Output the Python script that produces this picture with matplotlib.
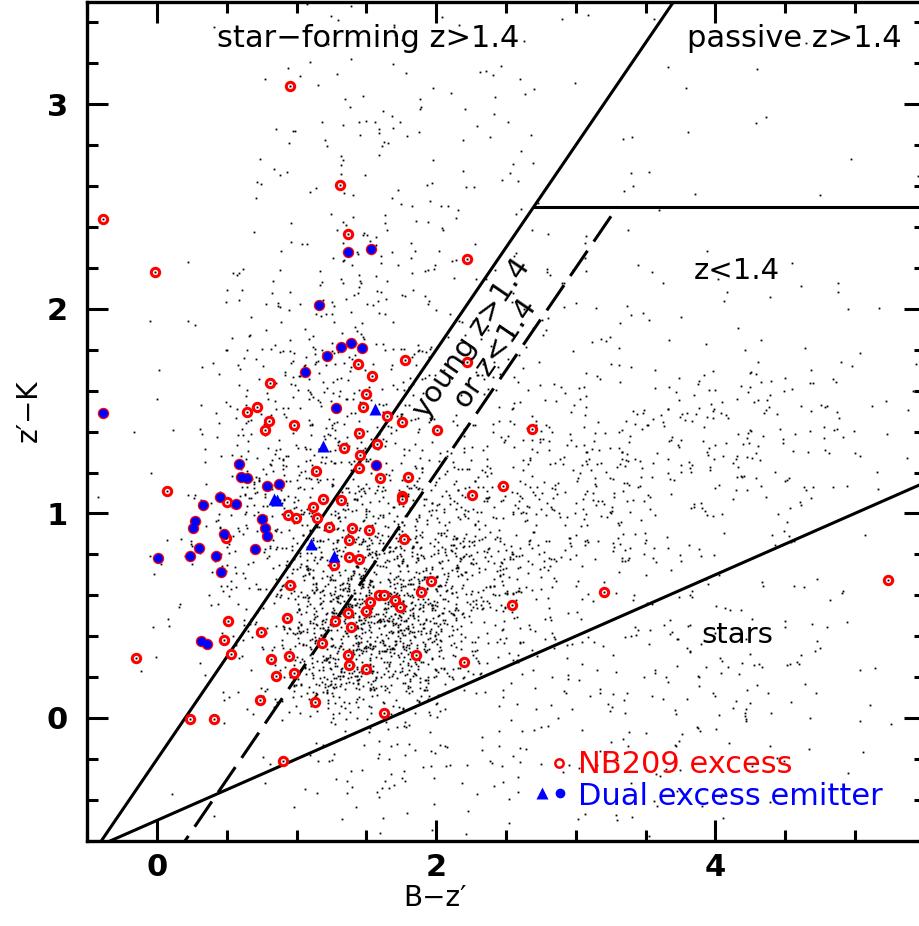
import numpy as np
import matplotlib.pyplot as plt
from matplotlib.ticker import MultipleLocator

plt.rcParams['font.family'] = 'DejaVu Sans'
plt.rcParams['lines.scale_dashes'] = False

# background K-selected catalogue, counted in (B-z', z'-K) cells of 0.5 x 0.25 mag
cell_x0 = [-0.5, 0.0, 0.5, 1.0, 1.5, 2.0, 2.5, 3.0, 3.5, 4.0, 4.5, 5.0]
cell_y0 = [-0.6, -0.35, -0.1, 0.15, 0.4, 0.65, 0.9, 1.15, 1.4, 1.65,
           1.9, 2.15, 2.4, 2.65, 2.9, 3.15, 3.4]
cell_counts = [
    [0, 0, 1, 5, 8, 6, 5, 5, 5, 3, 1, 0],
    [0, 1, 3, 15, 18, 10, 8, 8, 10, 6, 3, 0],
    [0, 2, 10, 45, 30, 16, 10, 12, 16, 10, 5, 1],
    [0, 4, 20, 200, 200, 40, 14, 14, 20, 16, 8, 1],
    [0, 8, 35, 210, 270, 80, 28, 12, 10, 8, 5, 1],
    [1, 10, 50, 120, 160, 100, 50, 22, 12, 6, 3, 1],
    [1, 8, 65, 80, 70, 75, 55, 35, 22, 12, 4, 1],
    [0, 6, 50, 65, 45, 40, 34, 32, 34, 30, 16, 3],
    [0, 4, 32, 50, 32, 20, 18, 20, 22, 25, 20, 4],
    [0, 3, 20, 40, 22, 14, 11, 8, 7, 6, 6, 2],
    [0, 2, 11, 28, 16, 11, 8, 5, 4, 3, 3, 1],
    [0, 1, 7, 18, 13, 8, 5, 4, 3, 2, 1, 1],
    [0, 0, 4, 13, 11, 7, 4, 3, 2, 1, 1, 1],
    [0, 0, 3, 10, 10, 6, 3, 2, 1, 1, 1, 0],
    [0, 0, 2, 8, 8, 6, 3, 1, 1, 1, 0, 0],
    [0, 0, 1, 6, 7, 5, 2, 1, 1, 1, 1, 0],
    [0, 0, 1, 4, 5, 3, 1, 1, 0, 1, 0, 0],
]
cell_w, cell_h = 0.5, 0.25

# NB209 excess objects (red circles only)
nb_x = [0.955, 1.312, -0.39, -0.014, 1.367, 2.224, 0.81, 0.643, 0.712, 0.80,
        0.77, 0.98, 1.135, 0.067, 1.19, 0.50, 1.12, 0.934, 0.994, 1.145,
        1.228, 0.49, 1.27, 0.951, 0.504, 0.93, 1.274, 0.743, 0.475, 1.178,
        0.528, -0.153, 0.817, 0.946, 0.977, 0.851, 0.74, 1.13, 0.232, 0.404,
        0.90, 1.436, 1.773, 1.539, 2.217, 1.498, 1.477, 1.646, 1.756, 2.005,
        2.688, 1.443, 1.338, 1.577, 1.45, 1.448, 1.594, 1.80, 1.751, 1.751,
        2.482, 2.258, 1.319, 1.395, 1.52, 1.371, 1.77, 1.372, 1.446, 1.959,
        1.892, 1.589, 1.627, 1.527, 1.704, 1.737, 1.493, 1.367, 2.543, 1.386,
        1.367, 1.372, 1.498, 1.855, 2.198, 1.622, 3.204, 5.24]
nb_y = [3.09, 2.608, 2.44, 2.18, 2.364, 2.244, 1.64, 1.497, 1.518, 1.45,
        1.41, 1.43, 1.206, 1.11, 1.07, 1.055, 1.03, 0.99, 0.979, 0.977,
        0.936, 0.879, 0.75, 0.65, 0.475, 0.49, 0.475, 0.42, 0.382, 0.368,
        0.312, 0.294, 0.286, 0.305, 0.219, 0.206, 0.087, 0.078, -0.006, -0.006,
        -0.212, 1.729, 1.75, 1.672, 1.739, 1.583, 1.52, 1.477, 1.446, 1.408,
        1.412, 1.394, 1.32, 1.337, 1.288, 1.224, 1.173, 1.18, 1.083, 1.069,
        1.132, 1.088, 1.065, 0.931, 0.92, 0.871, 0.877, 0.786, 0.776, 0.672,
        0.618, 0.601, 0.601, 0.567, 0.577, 0.544, 0.521, 0.515, 0.554, 0.445,
        0.309, 0.258, 0.24, 0.31, 0.273, 0.026, 0.616, 0.675]

# dual excess emitters that are also NB209 excess (blue dots)
dual_x = [1.163, 1.22, 1.06, -0.39, 1.28, 0.586, 0.60, 0.645, 0.79, 0.87,
          0.45, 0.566, 0.33, 0.748, 0.27, 0.258, 0.772, 0.784, 0.48, 0.296,
          0.70, 0.007, 0.234, 0.42, 0.454, 0.313, 0.36, 1.367, 1.529, 1.319,
          1.386, 1.465, 1.565]
dual_y = [2.02, 1.77, 1.69, 1.49, 1.516, 1.243, 1.176, 1.173, 1.134, 1.142,
          1.08, 1.048, 1.04, 0.975, 0.962, 0.931, 0.93, 0.889, 0.90, 0.832,
          0.827, 0.783, 0.793, 0.793, 0.712, 0.374, 0.361, 2.276, 2.294, 1.814,
          1.833, 1.807, 1.237]

# dual excess emitters without NB209 excess (blue triangles)
tri_x = [1.19, 0.84, 0.86, 1.10, 1.27, 1.558]
tri_y = [1.33, 1.072, 1.065, 0.851, 0.79, 1.51]

# BzK selection boundaries
sf_x, sf_y = [-0.5, 3.8], [-0.7, 3.6]
pe_x, pe_y = [2.7, 5.6], [2.5, 2.5]
lo_x, lo_y = [0.1, 3.3], [-0.7, 2.5]
st_x, st_y = [-0.5, 5.6], [-0.65, 1.18]


def hash01(idx, salt):
    # integer hash -> [0, 1), used to spread objects inside a cell
    h = (idx * np.uint64(2654435761) + np.uint64(salt)) % np.uint64(2**32)
    h ^= h >> np.uint64(16)
    h = (h * np.uint64(0x45d9f3b)) % np.uint64(2**32)
    h ^= h >> np.uint64(16)
    h = (h * np.uint64(0x45d9f3b)) % np.uint64(2**32)
    h ^= h >> np.uint64(16)
    return h.astype(float) / 2**32


def scatter_cells():
    xs, ys = [], []
    g = 0
    for j, y0 in enumerate(cell_y0):
        for i, x0 in enumerate(cell_x0):
            n = cell_counts[j][i]
            idx = np.arange(g, g + n, dtype=np.uint64)
            # triangular spread so neighbouring cells blend into each other
            u = 0.5 * (hash01(idx, 17) + hash01(idx, 5003))
            v = 0.5 * (hash01(idx, 90001) + hash01(idx, 271))
            xs.extend(x0 + cell_w * (1.9 * u - 0.45))
            ys.extend(y0 + cell_h * (1.9 * v - 0.45))
            g += n
    return xs, ys


bg_x, bg_y = scatter_cells()

fig = plt.figure(figsize=(9.2, 9.26), dpi=100)
ax = fig.add_axes([0.0951, 0.0921, 0.9098, 0.9057])

ax.plot(bg_x, bg_y, 's', ms=1.3, color='k', mec='none', zorder=1)

ax.plot(sf_x, sf_y, '-', color='k', lw=2.2, zorder=2)
ax.plot(pe_x, pe_y, '-', color='k', lw=2.2, zorder=2)
ax.plot(st_x, st_y, '-', color='k', lw=2.2, zorder=2)
ax.plot(lo_x, lo_y, color='k', lw=2.2, dashes=(22, 8), zorder=2)

ring_x = nb_x + dual_x
ring_y = nb_y + dual_y
ax.plot(ring_x, ring_y, 'o', ms=6.0, mfc='white', mec='red', mew=2.2, zorder=3)
ax.plot(ring_x, ring_y, 's', ms=1.4, color='k', mec='none', zorder=4)
ax.plot(dual_x, dual_y, 'o', ms=6.4, color='blue', mec='none', zorder=5)
ax.plot(tri_x, tri_y, '^', ms=9, color='blue', mec='none', zorder=5)

ax.set_xlim(-0.5, 5.5)
ax.set_ylim(-0.6, 3.5)
ax.set_xticks([0, 2, 4])
ax.set_yticks([0, 1, 2, 3])
ax.xaxis.set_minor_locator(MultipleLocator(0.5))
ax.yaxis.set_minor_locator(MultipleLocator(0.2))
ax.tick_params(which='both', direction='in', top=True, right=True, width=2.2)
ax.tick_params(which='major', length=15, labelsize=22)
ax.tick_params(which='minor', length=8)
ax.tick_params(axis='x', pad=9)
ax.tick_params(axis='y', pad=14)
for lab in ax.get_xticklabels() + ax.get_yticklabels():
    lab.set_fontweight('bold')
for s in ax.spines.values():
    s.set_linewidth(2.4)

ax.set_xlabel('B−z′', fontsize=20)
ax.xaxis.set_label_coords(0.415, -0.052)
ax.set_ylabel('z′−K', fontsize=20)
ax.yaxis.set_label_coords(-0.054, 0.513)

ax.text(0.335, 0.946, 'star−forming z>1.4', transform=ax.transAxes,
        ha='center', va='baseline', fontsize=22)
ax.text(0.844, 0.946, 'passive z>1.4', transform=ax.transAxes,
        ha='center', va='baseline', fontsize=22)
ax.text(0.776, 0.670, 'z<1.4', transform=ax.transAxes,
        ha='center', va='baseline', fontsize=21)
ax.text(0.776, 0.2356, 'stars', transform=ax.transAxes,
        ha='center', va='baseline', fontsize=21)
ax.text(2.34, 1.82, 'young z>1.4\nor z<1.4', rotation=45,
        transform_rotates_text=True, rotation_mode='anchor',
        ha='center', va='center', multialignment='center',
        linespacing=1.0, fontsize=21)

# legend
ax.plot([0.563], [0.0926], 'o', ms=6, mfc='none', mec='red', mew=1.8,
        transform=ax.transAxes, clip_on=False)
ax.text(0.586, 0.0807, 'NB209 excess', color='red', fontsize=22,
        transform=ax.transAxes, va='baseline')
ax.plot([0.543], [0.0569], '^', ms=8.5, color='blue', mec='none',
        transform=ax.transAxes)
ax.plot([0.565], [0.0569], 'o', ms=7, color='blue', mec='none',
        transform=ax.transAxes)
ax.text(0.586, 0.0426, 'Dual excess emitter', color='blue', fontsize=22,
        transform=ax.transAxes, va='baseline')

fig.savefig('out.png', dpi=100)
